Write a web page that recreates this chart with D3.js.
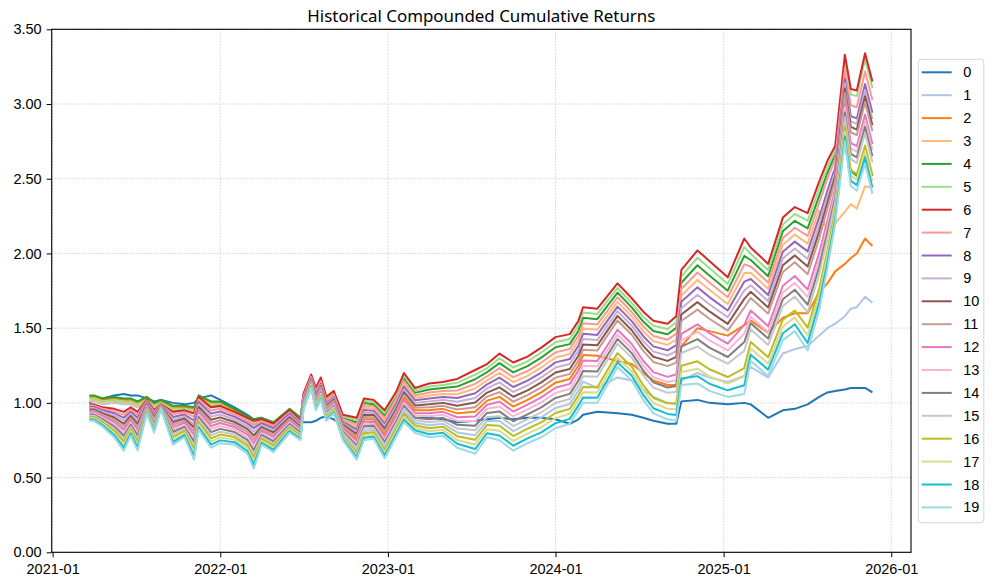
<!DOCTYPE html>
<html>
<head>
<meta charset="utf-8">
<script src="https://cdn.jsdelivr.net/npm/d3@7"></script>
<style>
body { margin: 0; background: #fff; }
text { font-family: "Noto Sans", "DejaVu Sans", sans-serif; }
</style>
</head>
<body>
<script>
// dates of the sampled points
var dates = ["2021-03-22","2021-04-01","2021-04-20","2021-05-15","2021-06-05","2021-06-20","2021-07-05","2021-07-25","2021-08-10","2021-08-25",
  "2021-09-20","2021-10-15","2021-11-05","2021-11-15","2021-12-12","2022-01-01","2022-02-01","2022-03-01","2022-03-15","2022-04-01",
  "2022-04-27","2022-06-01","2022-06-25","2022-07-01","2022-07-18","2022-07-28","2022-08-08","2022-08-20","2022-09-05","2022-09-25",
  "2022-10-25","2022-11-10","2022-12-01","2022-12-25","2023-01-20","2023-02-05","2023-03-01","2023-04-01","2023-05-01","2023-06-01",
  "2023-07-10","2023-08-05","2023-09-01","2023-10-01","2023-11-01","2023-12-01","2024-01-01","2024-02-01","2024-02-20","2024-03-01",
  "2024-04-01","2024-05-15","2024-06-15","2024-07-10","2024-08-01","2024-09-01","2024-09-20","2024-10-01","2024-11-05","2024-12-01",
  "2025-01-10","2025-02-15","2025-03-01","2025-04-08","2025-05-10","2025-06-05","2025-07-03","2025-07-28","2025-08-15","2025-09-01",
  "2025-09-22","2025-10-05","2025-10-18","2025-11-05","2025-11-21"];

var s0 = [1.00,1.02,1.03,1.05,1.06,1.05,1.05,1.03,1.01,1.02,1.00,0.99,1.00,1.03,1.05,1.02,0.97,0.92,0.89,0.90,0.86,0.95,0.90,
  0.87,0.87,0.88,0.90,0.91,0.89,0.85,0.82,0.85,0.87,0.84,0.88,0.92,0.90,0.90,0.89,0.87,0.88,0.89,0.90,0.89,0.90,0.90,0.89,0.86,0.89,0.92,
  0.94,0.93,0.92,0.90,0.88,0.86,0.86,1.01,1.02,1.00,0.99,1.00,0.99,0.90,0.95,0.96,0.99,1.04,1.07,1.08,1.09,1.10,1.10,1.10,1.07];
var s1 = [1.01,1.01,0.99,1.00,0.99,0.99,0.97,1.00,0.96,0.98,0.94,0.94,0.93,1.01,0.97,0.97,0.92,0.87,0.85,0.86,0.83,0.92,0.86,
  0.974,1.120,0.983,1.053,0.916,0.963,0.788,0.682,0.812,0.818,0.701,0.847,0.943,0.867,0.85,0.86,0.802,0.784,0.879,0.879,0.811,0.859,0.903,0.966,0.993,1.083,1.142,
  1.10,1.17,1.15,1.09,1.04,1.00,0.99,1.15,1.20,1.17,1.14,1.18,1.24,1.17,1.33,1.36,1.38,1.45,1.50,1.53,1.58,1.63,1.64,1.71,1.67];
var s2 = [1.04,1.04,1.02,1.03,1.02,1.02,1.00,1.03,0.99,1.01,0.97,0.97,0.96,1.04,1.00,1.00,0.95,0.90,0.88,0.89,0.86,0.95,0.89,
  1.005,1.145,1.025,1.095,0.960,1.005,0.835,0.760,0.890,0.890,0.790,0.930,1.035,0.950,0.95,0.96,0.930,0.940,1.015,1.040,0.975,1.020,1.070,1.135,1.160,1.250,1.320,1.315,
  1.28,1.26,1.20,1.15,1.12,1.12,1.38,1.50,1.48,1.45,1.52,1.55,1.47,1.57,1.60,1.60,1.74,1.80,1.88,1.93,1.97,2.00,2.10,2.05];
var s3 = [1.02,1.02,1.00,1.01,1.00,1.00,0.98,1.01,0.97,0.99,0.95,0.95,0.94,1.02,0.98,0.98,0.93,0.88,0.86,0.87,0.84,0.93,0.87,
  1.036,1.170,1.067,1.137,1.004,1.047,0.882,0.838,0.968,0.962,0.879,1.013,1.127,1.033,1.05,1.06,1.058,1.096,1.151,1.201,
  1.139,1.181,1.237,1.304,1.327,1.417,1.498,1.490,1.676,1.578,1.479,1.412,1.388,1.424,1.719,1.822,1.757,1.662,1.869,1.871,
  1.763,2.058,2.126,2.066,2.289,2.15,2.20,2.28,2.33,2.30,2.45,2.44];
var s4 = [1.05,1.05,1.03,1.04,1.03,1.03,1.01,1.04,1.00,1.02,0.98,0.98,0.97,1.05,1.01,1.01,0.96,0.91,0.89,0.90,0.87,0.96,0.90,
  1.048,1.180,1.083,1.153,1.022,1.063,0.901,0.869,0.999,0.991,0.914,1.047,1.163,1.067,1.09,1.10,1.109,1.158,1.206,1.266,
  1.204,1.246,1.303,1.372,1.393,1.483,1.569,1.560,1.738,1.639,1.544,1.481,1.459,1.502,1.804,1.921,1.853,1.751,1.984,1.956,
  1.847,2.149,2.218,2.168,2.384,2.54,2.662,2.72,2.55,2.52,2.66,2.52];
var s5 = [1.03,1.03,1.01,1.02,1.01,1.01,0.99,1.02,0.98,1.00,0.96,0.96,0.95,1.03,0.99,0.99,0.94,0.89,0.87,0.88,0.85,0.94,0.88,
  1.054,1.185,1.092,1.162,1.031,1.072,0.911,0.884,1.014,1.006,0.932,1.063,1.182,1.083,1.11,1.12,1.134,1.189,1.233,1.298,
  1.237,1.278,1.337,1.406,1.427,1.517,1.604,1.595,1.769,1.669,1.577,1.516,1.494,1.541,1.847,1.971,1.902,1.796,2.042,1.998,
  1.888,2.194,2.264,2.219,2.432,2.58,2.691,3.298,3.064,3.053,3.299,3.108];
var s6 = [0.99,0.99,0.97,0.96,0.94,0.97,0.94,1.02,0.95,0.99,0.94,0.95,0.93,1.04,0.97,0.98,0.94,0.90,0.88,0.89,0.86,0.95,0.88,
  1.06,1.19,1.10,1.17,1.04,1.08,0.92,0.90,1.03,1.02,0.95,1.08,1.20,1.10,1.13,1.14,1.16,1.22,1.26,1.33,
  1.27,1.31,1.37,1.44,1.46,1.55,1.64,1.63,1.80,1.70,1.61,1.55,1.53,1.58,1.89,2.02,1.95,1.84,2.10,2.04,
  1.93,2.24,2.31,2.27,2.48,2.62,2.72,3.33,3.10,3.09,3.34,3.15];
var s7 = [0.982,0.982,0.96,0.945,0.92,0.955,0.92,1.013,0.938,0.988,0.923,0.936,0.906,1.023,0.949,0.961,0.923,0.882,0.855,0.877,0.845,0.938,0.87,
  1.042,1.175,1.075,1.145,1.013,1.055,0.892,0.853,0.983,0.977,0.897,1.030,1.145,1.050,1.07,1.08,1.083,1.127,1.178,1.233,
  1.172,1.213,1.270,1.338,1.360,1.450,1.533,1.525,1.707,1.608,1.512,1.447,1.423,1.463,1.762,1.872,1.805,1.707,1.927,1.913,
  1.805,2.103,2.172,2.117,2.337,2.50,2.633,3.233,2.992,2.978,3.217,3.025];
var s8 = [0.973,0.973,0.95,0.931,0.90,0.941,0.90,1.006,0.927,0.985,0.906,0.922,0.882,1.006,0.928,0.942,0.906,0.863,0.831,0.864,0.831,0.927,0.86,
  1.029,1.165,1.058,1.128,0.996,1.038,0.873,0.822,0.952,0.948,0.861,0.997,1.108,1.017,1.03,1.04,1.032,1.064,1.124,1.169,
  1.106,1.149,1.203,1.271,1.293,1.383,1.462,1.455,1.644,1.547,1.446,1.378,1.352,1.386,1.676,1.773,1.708,1.618,1.811,1.829,
  1.722,2.012,2.079,2.014,2.241,2.42,2.576,3.169,2.919,2.904,3.134,2.942];
var s9 = [0.965,0.965,0.94,0.916,0.88,0.926,0.88,0.999,0.915,0.983,0.889,0.908,0.858,0.989,0.908,0.922,0.889,0.845,0.806,0.851,0.816,0.915,0.85,
  1.023,1.160,1.050,1.120,0.987,1.030,0.863,0.807,0.937,0.933,0.843,0.980,1.090,1.000,1.01,1.02,1.007,1.033,1.097,1.137,
  1.073,1.117,1.170,1.237,1.260,1.350,1.427,1.420,1.613,1.517,1.413,1.343,1.317,1.347,1.633,1.723,1.660,1.573,1.753,1.787,
  1.680,1.967,2.033,1.963,2.193,2.38,2.547,3.137,2.883,2.867,3.093,2.900];
var s10 = [0.956,0.956,0.93,0.902,0.86,0.912,0.86,0.992,0.904,0.981,0.872,0.895,0.835,0.972,0.887,0.903,0.872,0.826,0.782,0.838,0.802,0.904,0.84,
  1.017,1.155,1.042,1.112,0.978,1.022,0.854,0.791,0.921,0.919,0.826,0.963,1.072,0.983,0.99,1.00,0.981,1.002,1.069,1.104,
  1.041,1.084,1.137,1.203,1.227,1.317,1.391,1.385,1.582,1.486,1.381,1.309,1.281,1.308,1.591,1.674,1.612,1.529,1.696,1.744,
  1.638,1.921,1.987,1.912,2.146,2.34,2.518,3.104,2.847,2.829,3.052,2.858];
var s11 = [0.948,0.948,0.92,0.887,0.84,0.897,0.84,0.985,0.892,0.978,0.855,0.881,0.811,0.955,0.866,0.884,0.855,0.808,0.757,0.825,0.787,0.892,0.83,
  1.011,1.150,1.033,1.103,0.969,1.013,0.844,0.776,0.906,0.904,0.808,0.947,1.053,0.967,0.97,0.98,0.956,0.971,1.042,1.072,
  1.008,1.052,1.103,1.169,1.193,1.283,1.356,1.350,1.551,1.456,1.348,1.274,1.246,1.269,1.548,1.624,1.563,1.484,1.638,1.702,
  1.597,1.876,1.941,1.861,2.098,2.30,2.489,3.072,2.811,2.792,3.011,2.817];
var s12 = [0.939,0.939,0.91,0.872,0.82,0.882,0.82,0.978,0.881,0.976,0.838,0.867,0.787,0.938,0.845,0.865,0.838,0.789,0.732,0.812,0.772,0.881,0.82,
  0.999,1.140,1.017,1.087,0.951,0.997,0.826,0.744,0.874,0.876,0.772,0.913,1.017,0.933,0.93,0.94,0.904,0.909,0.988,1.008,
  0.942,0.988,1.037,1.101,1.127,1.217,1.284,1.280,1.489,1.394,1.282,1.206,1.174,1.191,1.462,1.526,1.467,1.396,1.522,1.618,
  1.513,1.784,1.849,1.759,2.002,2.22,2.431,3.008,2.739,2.718,2.929,2.733];
var s13 = [0.931,0.931,0.90,0.858,0.80,0.868,0.80,0.972,0.869,0.974,0.822,0.853,0.763,0.922,0.825,0.845,0.822,0.771,0.708,0.798,0.758,0.869,0.81,
  0.993,1.135,1.008,1.078,0.942,0.988,0.816,0.729,0.859,0.861,0.754,0.897,0.998,0.917,0.91,0.92,0.879,0.878,0.961,0.976,
  0.909,0.956,1.003,1.067,1.093,1.183,1.249,1.245,1.458,1.364,1.249,1.171,1.139,1.152,1.419,1.476,1.418,1.351,1.464,1.576,
  1.472,1.739,1.803,1.708,1.954,2.18,2.402,2.976,2.703,2.681,2.888,2.692];
var s14 = [0.922,0.922,0.89,0.843,0.78,0.853,0.78,0.965,0.858,0.972,0.805,0.839,0.739,0.905,0.804,0.826,0.805,0.752,0.683,0.785,0.743,0.858,0.80,
  0.987,1.130,1.000,1.070,0.933,0.980,0.807,0.713,0.843,0.847,0.737,0.880,0.980,0.900,0.89,0.90,0.853,0.847,0.933,0.943,
  0.877,0.923,0.970,1.033,1.060,1.150,1.213,1.210,1.427,1.333,1.217,1.137,1.103,1.113,1.377,1.427,1.370,1.307,1.407,1.533,
  1.430,1.693,1.757,1.657,1.907,2.14,2.373,2.943,2.667,2.643,2.847,2.650];
var s15 = [0.914,0.914,0.88,0.828,0.76,0.838,0.76,0.958,0.846,0.969,0.788,0.825,0.715,0.888,0.783,0.807,0.788,0.734,0.658,0.772,0.728,0.846,0.79,
  0.981,1.125,0.992,1.062,0.924,0.972,0.797,0.698,0.828,0.832,0.719,0.863,0.962,0.883,0.87,0.88,0.828,0.816,0.906,0.911,
  0.844,0.891,0.937,0.999,1.027,1.117,1.178,1.175,1.396,1.303,1.184,1.102,1.068,1.074,1.334,1.377,1.322,1.262,1.349,1.491,
  1.388,1.648,1.711,1.606,1.859,2.10,2.344,2.911,2.631,2.606,2.806,2.608];
var s16 = [0.905,0.905,0.87,0.814,0.74,0.824,0.74,0.951,0.835,0.967,0.771,0.812,0.691,0.871,0.762,0.788,0.771,0.715,0.634,0.759,0.714,0.835,0.78,
  0.968,1.115,0.975,1.045,0.907,0.955,0.778,0.667,0.797,0.803,0.683,0.830,0.925,0.850,0.83,0.84,0.777,0.753,0.852,0.847,
  0.778,0.827,0.870,0.932,0.960,1.050,1.107,1.105,1.333,1.242,1.118,1.033,0.997,0.997,1.248,1.278,1.225,1.173,1.233,1.407,
  1.305,1.557,1.618,1.503,1.763,2.02,2.287,2.847,2.558,2.532,2.723,2.525];
var s17 = [0.897,0.897,0.86,0.799,0.72,0.809,0.72,0.944,0.823,0.965,0.754,0.798,0.668,0.854,0.742,0.768,0.754,0.697,0.609,0.746,0.699,0.823,0.77,
  0.962,1.110,0.967,1.037,0.898,0.947,0.769,0.651,0.781,0.789,0.666,0.813,0.907,0.833,0.81,0.82,0.751,0.722,0.824,0.814,
  0.746,0.794,0.837,0.898,0.927,1.017,1.071,1.070,1.302,1.211,1.086,0.999,0.961,0.958,1.206,1.229,1.177,1.129,1.176,1.364,
  1.263,1.511,1.572,1.452,1.716,1.98,2.258,2.814,2.522,2.494,2.682,2.483];
var s18 = [0.888,0.888,0.85,0.785,0.70,0.795,0.70,0.937,0.812,0.962,0.737,0.784,0.644,0.837,0.721,0.749,0.737,0.678,0.585,0.733,0.685,0.812,0.76,
  0.956,1.105,0.958,1.028,0.889,0.938,0.759,0.636,0.766,0.774,0.648,0.797,0.888,0.817,0.79,0.80,0.726,0.691,0.797,0.782,
  0.713,0.762,0.803,0.864,0.893,0.983,1.036,1.035,1.271,1.181,1.053,0.964,0.926,0.919,1.163,1.179,1.128,1.084,1.118,1.322,
  1.222,1.466,1.526,1.401,1.668,1.94,2.229,2.782,2.486,2.457,2.641,2.442];
var s19 = [0.88,0.88,0.84,0.77,0.68,0.78,0.68,0.93,0.80,0.96,0.72,0.77,0.62,0.82,0.70,0.73,0.72,0.66,0.56,0.72,0.67,0.80,0.75,
  0.95,1.10,0.95,1.02,0.88,0.93,0.75,0.62,0.75,0.76,0.63,0.78,0.87,0.80,0.77,0.78,0.70,0.66,0.77,0.75,
  0.68,0.73,0.77,0.83,0.86,0.95,1.00,1.00,1.24,1.15,1.02,0.93,0.89,0.88,1.12,1.13,1.08,1.04,1.06,1.28,
  1.18,1.42,1.48,1.35,1.62,1.90,2.20,2.75,2.45,2.42,2.60,2.40];

var seriesNames = ["0","1","2","3","4","5","6","7","8","9","10","11","12","13","14","15","16","17","18","19"];
var colors = ["#1f77b4","#aec7e8","#ff7f0e","#ffbb78","#2ca02c","#98df8a","#d62728","#ff9896","#9467bd","#c5b0d5",
  "#8c564b","#c49c94","#e377c2","#f7b6d2","#7f7f7f","#c7c7c7","#bcbd22","#dbdb8d","#17becf","#9edae5"];
var yTicks = [0, 0.5, 1.0, 1.5, 2.0, 2.5, 3.0, 3.5];
var xTicks = ["2021-01","2022-01","2023-01","2024-01","2025-01","2026-01"];

var allSeries = [s0,s1,s2,s3,s4,s5,s6,s7,s8,s9,s10,s11,s12,s13,s14,s15,s16,s17,s18,s19];

function drawChart(){
    var width = 996, height = 583;
    var left = 51.7, right = 911, top = 29.3, bottom = 552.3;
    var tickFont = "'Liberation Sans', Arial, sans-serif";
    var parse = d3.timeParse("%Y-%m-%d");
    var parseM = d3.timeParse("%Y-%m");

    var svg = d3.select("body").append("svg")
        .attr("width", width)
        .attr("height", height);

    var x = d3.scaleTime()
        .domain([parse("2020-12-30"), parse("2026-02-13")])
        .range([left, right]);
    var y = d3.scaleLinear()
        .domain([0, 3.5])
        .range([bottom, top]);

    // grid
    var grid = svg.append("g");
    grid.selectAll("line.gx").data(xTicks).enter().append("line")
        .attr("x1", function(d){ return x(parseM(d)); })
        .attr("x2", function(d){ return x(parseM(d)); })
        .attr("y1", top).attr("y2", bottom)
        .attr("stroke", "#b0b0b0").attr("stroke-width", 0.8)
        .attr("stroke-dasharray", "1,2");
    grid.selectAll("line.gy").data(yTicks).enter().append("line")
        .attr("x1", left).attr("x2", right)
        .attr("y1", function(d){ return y(d); })
        .attr("y2", function(d){ return y(d); })
        .attr("stroke", "#b0b0b0").attr("stroke-width", 0.8)
        .attr("stroke-dasharray", "1,2");

    var line = d3.line()
        .x(function(d){ return x(d.date); })
        .y(function(d){ return y(d.v); });

    var data = allSeries.map(function(vals, i){
        return {
            name: seriesNames[i],
            color: colors[i],
            points: vals.map(function(v, j){ return {date: parse(dates[j]), v: v}; })
        };
    });

    var plot = svg.append("g");
    plot.selectAll("path").data(data).enter().append("path")
        .attr("d", function(d){ return line(d.points); })
        .attr("fill", "none")
        .attr("stroke", function(d){ return d.color; })
        .attr("stroke-width", 2)
        .attr("stroke-linejoin", "round");

    // axes
    var xAxis = d3.axisBottom(x)
        .tickValues(xTicks.map(function(d){ return parseM(d); }))
        .tickFormat(d3.timeFormat("%Y-%m"))
        .tickSize(5).tickPadding(6);
    var yAxis = d3.axisLeft(y)
        .tickValues(yTicks)
        .tickFormat(d3.format(".2f"))
        .tickSize(5).tickPadding(5);

    var gx = svg.append("g").attr("transform", "translate(0," + bottom + ")").call(xAxis);
    var gy = svg.append("g").attr("transform", "translate(" + left + ",0)").call(yAxis);
    [gx, gy].forEach(function(g){
        g.select(".domain").remove();
        g.selectAll(".tick line").attr("stroke", "#000").attr("stroke-width", 1);
        g.selectAll(".tick text").attr("fill", "#000").style("font-size", "14.5px")
            .style("font-family", tickFont);
    });

    svg.append("rect")
        .attr("x", left).attr("y", top)
        .attr("width", right - left).attr("height", bottom - top)
        .attr("fill", "none").attr("stroke", "#000").attr("stroke-width", 1.1);

    svg.append("text")
        .attr("x", (left + right) / 2).attr("y", 22)
        .attr("text-anchor", "middle")
        .style("font-size", "16.9px")
        .text("Historical Compounded Cumulative Returns");

    // legend
    var lg = svg.append("g");
    lg.append("rect")
        .attr("x", 918.3).attr("y", 59.3)
        .attr("width", 65.5).attr("height", 463.4)
        .attr("rx", 3).attr("ry", 3)
        .attr("fill", "#fff").attr("fill-opacity", 0.8)
        .attr("stroke", "#d6d6d6").attr("stroke-width", 1);
    var items = lg.selectAll("g.item").data(data).enter().append("g")
        .attr("transform", function(d, i){ return "translate(0," + (72.3 + i * 22.9) + ")"; });
    items.append("line")
        .attr("x1", 921.7).attr("x2", 951.7)
        .attr("y1", 0).attr("y2", 0)
        .attr("stroke", function(d){ return d.color; })
        .attr("stroke-width", 2);
    items.append("text")
        .attr("x", 963.3).attr("y", 0).attr("dy", "0.35em")
        .style("font-size", "14.5px")
        .style("font-family", tickFont)
        .text(function(d){ return d.name; });
}

drawChart();
</script>
</body>
</html>
